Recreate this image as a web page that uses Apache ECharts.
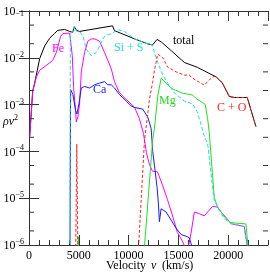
<!DOCTYPE html>
<html><head><meta charset="utf-8">
<script src="https://cdn.jsdelivr.net/npm/echarts@6/dist/echarts.min.js"></script>
<style>html,body{margin:0;padding:0;background:#fff}#c{width:270px;height:273px}</style>
</head><body><div id="c"></div>
<script>
// ---- data: [velocity km/s, rho v^2] ----
const xTickLabels = ['0','5000','10000','15000','20000'];
const yMinorTicks = [2e-6,5e-6,2e-5,5e-5,2e-4,5e-4,2e-3,5e-3,2e-2,5e-2];
const totalData = [[70,2.1e-4],[371,1.95e-3],[571,2.9e-3],[1072,9.6e-3],[1573,0.0179],[2074,0.0262],[2575,0.0333],[2876,0.0385],[3577,0.0403],[4078,0.0366],[4379,0.035],[4550,0.046],[4780,0.0385],[5080,0.0366],[8387,0.0482],[8587,0.038],[10591,0.0254],[11894,0.02],[12395,0.0188],[12866,0.0247],[13297,0.0217],[14299,0.0141],[15601,0.00794],[16904,0.00626],[18808,0.00388],[19409,0.00292],[20110,0.00149],[20611,0.00142],[21914,0.00142],[22786,0.00034]];
const feData = [[70,2.1e-4],[371,1.9e-3],[742,3.88e-3],[1072,5.42e-3],[1743,6.89e-3],[2375,8.75e-3],[2745,0.013],[3006,0.021],[3176,0.0289],[3407,0.0329],[4078,0.0338],[4249,0.0313],[4349,0.0111],[4479,2.3e-3],[4679,7.4e-4],[4750,4.26e-4],[4910,5.48e-4],[5080,1.03e-3],[5250,5e-3],[5581,0.013],[5912,0.0227],[6253,0.0254],[6583,0.0254],[7084,0.0227],[7585,0.013],[8257,5.89e-3],[8587,3.1e-3],[9088,1.78e-3],[9760,1.29e-3],[10591,8.8e-4],[11092,4.98e-4],[11493,2.43e-4],[11794,9.35e-5],[12094,5.27e-5],[12395,3.77e-5],[12896,3.68e-5],[13397,1.93e-5],[13898,9.44e-6],[14299,5.07e-6],[14900,1.86e-6],[15401,1.21e-6],[15902,7e-7],[16273,1.8e-6],[16603,5.07e-6],[17104,4.68e-6],[17605,4.19e-6],[17936,5.07e-6],[18437,6.67e-6],[18938,6.45e-6],[19279,5.07e-6],[19780,3.9e-6],[20281,2.86e-6],[21613,2.48e-6],[22114,5e-7]];
const caData = [[4100,1e-7],[4178,2.09e-3],[4409,1.64e-3],[4679,7.4e-4],[4810,6.3e-4],[5010,1.03e-3],[5250,2.26e-3],[5581,2.44e-3],[6082,2.26e-3],[6583,2.65e-3],[7084,2.88e-3],[7585,3.1e-3],[7916,2.65e-3],[8257,2.65e-3],[8587,2.26e-3],[9088,1.64e-3],[9419,1.4e-3],[9760,1.19e-3],[10261,9.4e-4],[10591,8.7e-4],[11423,8.0e-4],[11924,5.4e-4],[12265,3.09e-4],[12425,1e-4],[12595,5.1e-5],[12866,1.67e-5],[12996,7.55e-6],[13096,3.15e-6],[13267,5.95e-6],[13427,6.45e-6],[13768,5.07e-6],[14269,3.41e-6],[14770,2.29e-6],[15271,1.67e-6],[15772,1.54e-6],[16102,1.42e-6],[16533,7e-7]];
const siData = [[4100,1e-7],[4150,0.033],[4400,0.036],[4550,0.047],[4750,0.037],[5080,0.0366],[5421,0.0289],[5752,0.0153],[6253,0.0111],[6754,0.013],[7084,0.0179],[7585,0.0289],[8387,0.0338],[8888,0.0398],[9589,0.0366],[10591,0.0254],[11894,0.02],[12395,0.0188],[12595,0.013],[12926,8.07e-3],[13427,4.27e-3],[13928,2.88e-3],[14599,1.78e-3],[15601,1.19e-3],[16433,1.03e-3],[16900,7e-4],[17300,3.6e-4],[17605,2.1e-4],[17936,1.5e-4],[18437,1.7e-5],[18607,9e-6],[18938,6.45e-6],[19609,3.65e-6],[20281,2.86e-6],[21613,2.48e-6],[22114,5e-7]];
const mgData = [[4850,1e-7],[4950,1.5e-6],[5050,1e-7],[11590,9e-7],[12425,1.8e-4],[12595,3.1e-4],[12926,1.5e-3],[13267,3.65e-3],[13768,2.88e-3],[14350,2.2e-3],[15431,1.75e-3],[16433,1.6e-3],[16774,1.35e-3],[17435,1.1e-3],[17700,1.0e-3],[17936,5e-4],[18106,2.5e-4],[18437,3e-5],[18607,1.04e-5],[18938,6.45e-6],[19780,3.65e-6],[20281,3.0e-6],[21784,2.82e-6],[22114,5e-7]];
const coData = [[4650,1e-7],[4800,1.44e-4],[4950,1e-7],[11000,9e-7],[11603,1.8e-4],[11924,6.3e-4],[12094,1.3e-3],[12425,3.1e-3],[12595,5.4e-3],[12766,8.1e-3],[12926,0.012],[13096,0.0111],[13427,0.0101],[13928,6.3e-3],[14770,5e-3],[15601,4.27e-3],[16102,4.27e-3],[16433,3.66e-3],[17104,3.0e-3],[17605,2.6e-3],[18106,3.4e-3],[18607,4.08e-3],[18808,0.00388],[19409,0.00292],[20110,0.00149],[20611,0.00142],[21914,0.00142],[22786,0.00034]];

const SERIF = '"Liberation Serif","DejaVu Serif",serif';
const AXC = '#333';
const chart = echarts.init(document.getElementById('c'), null, {renderer:'canvas'});
function lineSeries(name, data, color, type){
  return {name, type:'line', data, xAxisIndex:0, yAxisIndex:0, showSymbol:false, symbol:'none',
    lineStyle:{color, width:1, type: type||'solid'}, animation:false, silent:true, clip:true};
}
function txt(x, y, text, color, italic){
  return {type:'text', x, y, style:{text, fill:color, fontFamily:SERIF, fontSize:12, fontStyle: italic?'italic':'normal', textVerticalAlign:'middle'}};
}
const xCommon = {type:'value', min:0, max:24000, splitLine:{show:false}};
chart.setOption({
  animation:false,
  grid:{left:29, right:2, top:4, bottom:28, containLabel:false},
  xAxis:[
    Object.assign({}, xCommon, {position:'bottom', interval:1000, axisLine:{show:true,lineStyle:{color:AXC}}, axisTick:{inside:true,length:5,lineStyle:{color:AXC}}, axisLabel:{show:false}}),
    Object.assign({}, xCommon, {position:'bottom', interval:5000, axisLine:{show:false}, axisTick:{inside:true,length:10,lineStyle:{color:AXC}},
      axisLabel:{show:true, showMaxLabel:false, margin:5, color:'#000', fontFamily:SERIF, fontSize:12,
        formatter:(v)=>{const i=v/5000; return (Number.isInteger(i)&&i<xTickLabels.length)?xTickLabels[i]:'';}}}),
    Object.assign({}, xCommon, {position:'top', interval:1000, axisLine:{show:true,lineStyle:{color:AXC}}, axisTick:{inside:true,length:5,lineStyle:{color:AXC}}, axisLabel:{show:false}}),
    Object.assign({}, xCommon, {position:'top', interval:5000, axisLine:{show:false}, axisTick:{inside:true,length:10,lineStyle:{color:AXC}}, axisLabel:{show:false}})
  ],
  yAxis:[
    {type:'log', logBase:10, min:1e-6, max:0.1, position:'left', splitLine:{show:false},
      axisLine:{show:true,lineStyle:{color:AXC}}, axisTick:{inside:true,length:10,lineStyle:{color:AXC}},
      axisLabel:{show:true, margin:5, color:'#000',
        formatter:(v)=>{const n=Math.round(Math.log10(v)); return n===-1 ? '{bt|10}{st|\u22121}' : '{b|10}{s|\u2212'+Math.abs(n)+'}';},
        rich:{b:{fontFamily:SERIF,fontSize:12,lineHeight:14,verticalAlign:'bottom'}, s:{fontFamily:SERIF,fontSize:8,lineHeight:14,verticalAlign:'top'},
              bt:{fontFamily:SERIF,fontSize:12,lineHeight:14,verticalAlign:'bottom',padding:[6,0,0,0]}, st:{fontFamily:SERIF,fontSize:8,lineHeight:14,verticalAlign:'top',padding:[6,0,0,0]}}}},
    {type:'log', logBase:10, min:1e-6, max:0.1, position:'right', splitLine:{show:false},
      axisLine:{show:true,lineStyle:{color:AXC}}, axisTick:{inside:true,length:10,lineStyle:{color:AXC}}, axisLabel:{show:false}}
  ],
  series:[
    lineSeries('total', totalData, '#000000'),
    lineSeries('Fe', feData, '#ff00ff'),
    lineSeries('Ca', caData, '#1a1aff'),
    lineSeries('Mg', mgData, '#22dd22'),
    lineSeries('Si + S', siData, '#22dddd', [4,2]),
    lineSeries('C + O', coData, '#ff2020', [3,2]),
    {type:'custom', xAxisIndex:0, yAxisIndex:0, silent:true, clip:false, animation:false,
      data: yMinorTicks.map(v=>[0,v]),
      renderItem:(params, api)=>{
        const y = api.coord([0, api.value(1)])[1];
        const cs = params.coordSys;
        const st = {stroke:AXC, lineWidth:1};
        return {type:'group', children:[
          {type:'line', shape:{x1:cs.x, y1:y, x2:cs.x+5, y2:y}, style:st},
          {type:'line', shape:{x1:cs.x+cs.width-5, y1:y, x2:cs.x+cs.width, y2:y}, style:st}
        ]};
      }}
  ],
  graphic:[
    txt(52, 49, 'Fe', '#ff00ff'),
    txt(114, 48, 'Si + S', '#22dddd'),
    txt(173, 41, 'total', '#000'),
    txt(93, 90, 'Ca', '#1a1aff'),
    txt(159, 101, 'Mg', '#22dd22'),
    txt(217, 108, 'C + O', '#ff2020'),
    {type:'text', left:3, top:114, style:{text:'{i|\u03c1v}{s|2}', rich:{i:{fontFamily:SERIF,fontStyle:'italic',fontSize:12,lineHeight:14,verticalAlign:'bottom',fill:'#000'}, s:{fontFamily:SERIF,fontSize:8,lineHeight:14,verticalAlign:'top',fill:'#000'}}}},
    txt(106, 266, 'Velocity', '#000'),
    txt(151, 266, 'v', '#000', true),
    txt(162, 266, '(km/s)', '#000')
  ]
});
</script></body></html>
